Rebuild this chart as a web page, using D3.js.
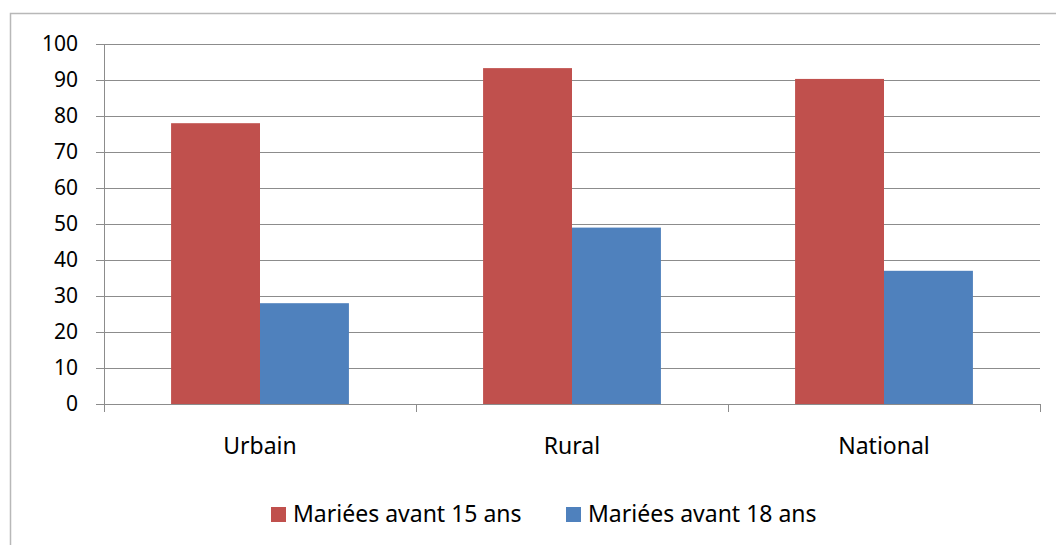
<!DOCTYPE html>
<html>
<head>
<meta charset="utf-8">
<title>Mariées avant 15 / 18 ans</title>
<script src="https://cdnjs.cloudflare.com/ajax/libs/d3/7.8.5/d3.min.js"></script>
<style>
  body { margin: 0; background: #fff; }
  text { font-family: "Noto Sans", "Open Sans", sans-serif; fill: #000; }
  .yaxis .tick text { font-size: 21px; }
  .xaxis .tick text { font-size: 23px; }
  .grid line { stroke: #8c8c8c; stroke-width: 1px; }
  .legend text { font-size: 23px; }
</style>
</head>
<body>
<svg id="viz" width="1056" height="545"></svg>
<script>

// data
var categories = ["Urbain", "Rural", "National"];
var seriesNames = ["Mariées avant 15 ans", "Mariées avant 18 ans"];
var before15 = [78, 93.3, 90.3];
var before18 = [28, 49, 37];
var seriesColors = ["#C0504D", "#4F81BD"];
var yTicks = [0, 10, 20, 30, 40, 50, 60, 70, 80, 90, 100];

var svg = d3.select("#viz");

// outer chart frame (runs off the right and bottom of the picture)
svg.append("rect")
  .attr("x", 10.5).attr("y", 13.5)
  .attr("width", 1100).attr("height", 600)
  .attr("fill", "none")
  .attr("stroke", "#b8b8b8")
  .attr("stroke-width", 1.5);

var plotLeft = 104, plotRight = 1040, plotTop = 44, plotBottom = 404;

var y = d3.scaleLinear().domain([0, 100]).range([plotBottom, plotTop]);

var x0 = d3.scaleBand().domain(categories).range([plotLeft, plotRight]).padding(0);
var bw = x0.bandwidth();
var x1 = d3.scaleBand().domain(seriesNames).range([bw * 0.215, bw * 0.785]).padding(0);

// horizontal gridlines
svg.append("g").attr("class", "grid")
  .selectAll("line")
  .data(yTicks)
  .enter().append("line")
  .attr("x1", plotLeft - 8).attr("x2", plotRight)
  .attr("y1", function(d) { return Math.round(y(d)) + 0.5; })
  .attr("y2", function(d) { return Math.round(y(d)) + 0.5; });

// y axis labels
var yAxis = d3.axisLeft(y).tickValues(yTicks).tickSize(0).tickPadding(26);
var gy = svg.append("g").attr("class", "yaxis")
  .attr("transform", "translate(" + plotLeft + ",0)").call(yAxis);
gy.select(".domain").remove();

// bars
var rows = categories.map(function(c, i) {
  return { cat: c, values: [before15[i], before18[i]] };
});

var groups = svg.selectAll("g.cat")
  .data(rows)
  .enter().append("g")
  .attr("class", "cat")
  .attr("transform", function(d) { return "translate(" + x0(d.cat) + ",0)"; });

groups.selectAll("rect")
  .data(function(d) { return d.values.map(function(v, j) { return { name: seriesNames[j], value: v, j: j }; }); })
  .enter().append("rect")
  .attr("x", function(d) { return x1(d.name); })
  .attr("y", function(d) { return y(d.value); })
  .attr("width", x1.bandwidth())
  .attr("height", function(d) { return plotBottom - y(d.value); })
  .attr("fill", function(d) { return seriesColors[d.j]; });

// y axis line
svg.append("line")
  .attr("x1", plotLeft + 0.5).attr("x2", plotLeft + 0.5)
  .attr("y1", plotTop).attr("y2", plotBottom + 8)
  .attr("stroke", "#8c8c8c");

// x axis
var xAxis = d3.axisBottom(x0).tickSize(0).tickPadding(33);
var gx = svg.append("g").attr("class", "xaxis")
  .attr("transform", "translate(0," + (plotBottom + 0.5) + ")").call(xAxis);
gx.select(".domain").attr("stroke", "#8c8c8c").attr("d", "M" + plotLeft + ",0H" + plotRight);

// category separator ticks
svg.append("g").selectAll("line")
  .data(d3.range(categories.length + 1))
  .enter().append("line")
  .attr("x1", function(i) { return plotLeft + i * bw + 0.5; })
  .attr("x2", function(i) { return plotLeft + i * bw + 0.5; })
  .attr("y1", plotBottom).attr("y2", plotBottom + 8)
  .attr("stroke", "#8c8c8c");

// legend
var legendX = [271, 566];
var legend = svg.append("g").attr("class", "legend")
  .selectAll("g")
  .data(seriesNames)
  .enter().append("g")
  .attr("transform", function(d, i) { return "translate(" + legendX[i] + ",507)"; });

legend.append("rect")
  .attr("width", 15).attr("height", 15)
  .attr("fill", function(d, i) { return seriesColors[i]; });

legend.append("text")
  .attr("x", 22).attr("y", 15)
  .text(function(d) { return d; });

</script>
</body>
</html>
